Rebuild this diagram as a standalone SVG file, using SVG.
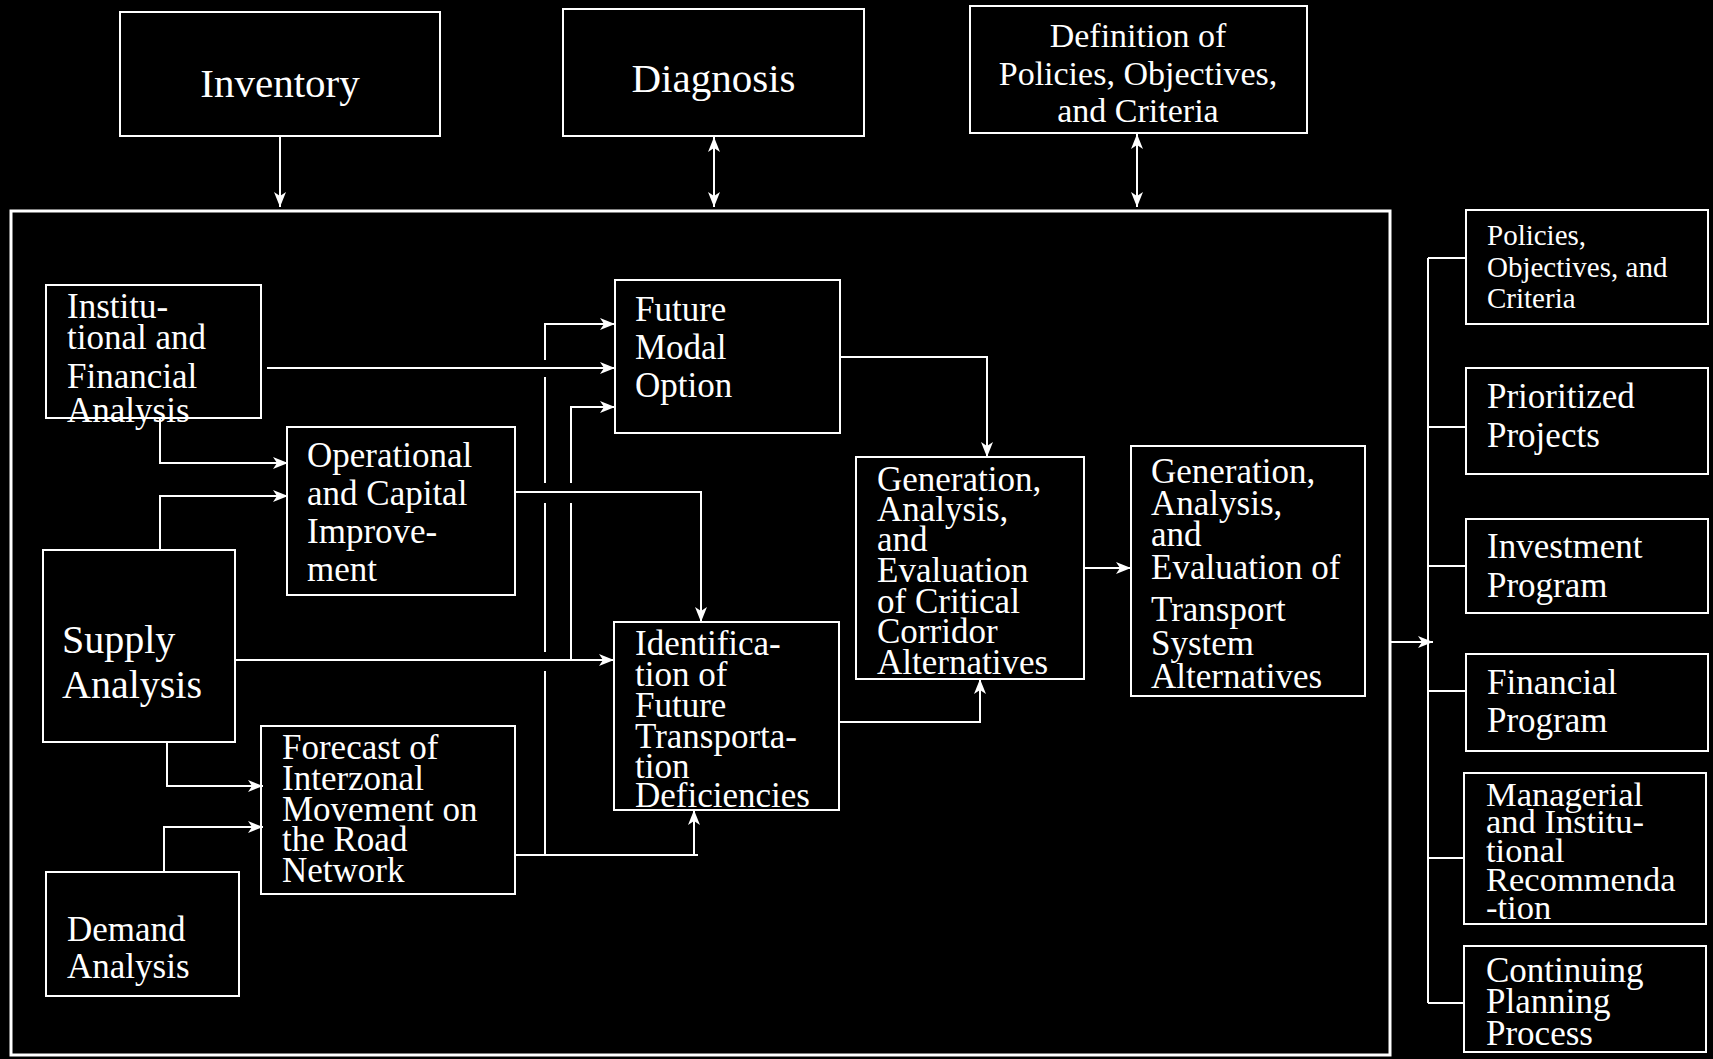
<svg xmlns="http://www.w3.org/2000/svg" width="1713" height="1059" viewBox="0 0 1713 1059">
<style>
.bg{fill:#000}
.box{fill:#000;stroke:#fff;stroke-width:2}
.outer{fill:none;stroke:#fff;stroke-width:3}
.ln{fill:none;stroke:#fff;stroke-width:2}
.t{font-family:"Liberation Serif",serif;fill:#fff}
.big{font-size:41px}
.def{font-size:34px}
.n{font-size:35px}
.sup{font-size:40px}
.pol{font-size:29px}
.mg{font-size:34.5px}
.c{text-anchor:middle}
</style>
<defs>
<marker id="ah" viewBox="0 0 15 12" refX="15" refY="6" markerWidth="15" markerHeight="12" markerUnits="userSpaceOnUse" orient="auto-start-reverse">
<path d="M0,0 L15,6 L0,12 L4,6 z" fill="#fff"/>
</marker>
</defs>
<rect class="bg" x="0" y="0" width="1713" height="1059"/>

<g id="outer-frame"><rect class="outer" x="11" y="211" width="1379" height="844"/></g>

<g id="inventory"><rect class="box" x="120" y="12" width="320" height="124"/>
<text class="t big c" x="280" y="97">Inventory</text></g>

<g id="diagnosis"><rect class="box" x="563" y="9" width="301" height="127"/>
<text class="t big c" x="713.5" y="92">Diagnosis</text></g>

<g id="definition"><rect class="box" x="970" y="6" width="337" height="127"/>
<text class="t def c" x="1138" y="47">Definition of</text>
<text class="t def c" x="1138" y="85">Policies, Objectives,</text>
<text class="t def c" x="1138" y="122">and Criteria</text></g>

<g id="institutional"><rect class="box" x="46" y="285" width="215" height="133"/>
<text class="t n" x="67" y="318">Institu-</text>
<text class="t n" x="67" y="349">tional and</text>
<text class="t n" x="67" y="388">Financial</text>
<text class="t n" x="67" y="422">Analysis</text></g>

<g id="operational"><rect class="box" x="287" y="427" width="228" height="168"/>
<text class="t n" x="307" y="467">Operational</text>
<text class="t n" x="307" y="505">and Capital</text>
<text class="t n" x="307" y="543">Improve-</text>
<text class="t n" x="307" y="581">ment</text></g>

<g id="supply"><rect class="box" x="43" y="550" width="192" height="192"/>
<text class="t sup" x="62" y="653">Supply</text>
<text class="t sup" x="62" y="698">Analysis</text></g>

<g id="forecast"><rect class="box" x="261" y="726" width="254" height="168"/>
<text class="t n" x="282" y="759">Forecast of</text>
<text class="t n" x="282" y="790">Interzonal</text>
<text class="t n" x="282" y="821">Movement on</text>
<text class="t n" x="282" y="851">the Road</text>
<text class="t n" x="282" y="882">Network</text></g>

<g id="demand"><rect class="box" x="46" y="872" width="193" height="124"/>
<text class="t n" x="67" y="941">Demand</text>
<text class="t n" x="67" y="978">Analysis</text></g>

<g id="future-modal"><rect class="box" x="615" y="280" width="225" height="153"/>
<text class="t n" x="635" y="321">Future</text>
<text class="t n" x="635" y="359">Modal</text>
<text class="t n" x="635" y="397">Option</text></g>

<g id="identification"><rect class="box" x="614" y="622" width="225" height="188"/>
<text class="t n" x="635" y="655">Identifica-</text>
<text class="t n" x="635" y="686">tion of</text>
<text class="t n" x="635" y="717">Future</text>
<text class="t n" x="635" y="748">Transporta-</text>
<text class="t n" x="635" y="778">tion</text>
<text class="t n" x="635" y="807">Deficiencies</text></g>

<g id="gen-corridor"><rect class="box" x="856" y="457" width="228" height="222"/>
<text class="t n" x="877" y="491">Generation,</text>
<text class="t n" x="877" y="521">Analysis,</text>
<text class="t n" x="877" y="551">and</text>
<text class="t n" x="877" y="582">Evaluation</text>
<text class="t n" x="877" y="613">of Critical</text>
<text class="t n" x="877" y="643">Corridor</text>
<text class="t n" x="877" y="674">Alternatives</text></g>

<g id="gen-transport"><rect class="box" x="1131" y="446" width="234" height="250"/>
<text class="t n" x="1151" y="483">Generation,</text>
<text class="t n" x="1151" y="515">Analysis,</text>
<text class="t n" x="1151" y="546">and</text>
<text class="t n" x="1151" y="579">Evaluation of</text>
<text class="t n" x="1151" y="621">Transport</text>
<text class="t n" x="1151" y="655">System</text>
<text class="t n" x="1151" y="688">Alternatives</text></g>

<g id="policies"><rect class="box" x="1466" y="210" width="242" height="114"/>
<text class="t pol" x="1487" y="245">Policies,</text>
<text class="t pol" x="1487" y="277">Objectives, and</text>
<text class="t pol" x="1487" y="308">Criteria</text></g>

<g id="prioritized"><rect class="box" x="1466" y="368" width="242" height="106"/>
<text class="t n" x="1487" y="408">Prioritized</text>
<text class="t n" x="1487" y="447">Projects</text></g>

<g id="investment"><rect class="box" x="1466" y="519" width="242" height="94"/>
<text class="t n" x="1487" y="558">Investment</text>
<text class="t n" x="1487" y="597">Program</text></g>

<g id="financial"><rect class="box" x="1466" y="654" width="242" height="97"/>
<text class="t n" x="1487" y="694">Financial</text>
<text class="t n" x="1487" y="732">Program</text></g>

<g id="managerial"><rect class="box" x="1464" y="773" width="242" height="151"/>
<text class="t mg" x="1486" y="806">Managerial</text>
<text class="t mg" x="1486" y="833">and Institu-</text>
<text class="t mg" x="1486" y="862">tional</text>
<text class="t mg" x="1486" y="891">Recommenda</text>
<text class="t mg" x="1486" y="919">-tion</text></g>

<g id="continuing"><rect class="box" x="1464" y="946" width="242" height="106"/>
<text class="t n" x="1486" y="982">Continuing</text>
<text class="t n" x="1486" y="1013">Planning</text>
<text class="t n" x="1486" y="1045">Process</text></g>

<g id="connectors">
<path class="ln" d="M280,136 V207" marker-end="url(#ah)"/>
<path class="ln" d="M714,137 V207" marker-start="url(#ah)" marker-end="url(#ah)"/>
<path class="ln" d="M1137,134 V207" marker-start="url(#ah)" marker-end="url(#ah)"/>
<path class="ln" d="M267,368 H615" marker-end="url(#ah)"/>
<path class="ln" d="M160,418 V463 H288" marker-end="url(#ah)"/>
<path class="ln" d="M160,550 V496 H288" marker-end="url(#ah)"/>
<path class="ln" d="M167,742 V786 H263" marker-end="url(#ah)"/>
<path class="ln" d="M164,872 V827 H263" marker-end="url(#ah)"/>
<path class="ln" d="M235,660 H614" marker-end="url(#ah)"/>
<path class="ln" d="M571,660 V503 M571,483 V407 H615" marker-end="url(#ah)"/>
<path class="ln" d="M515,855 H698"/>
<path class="ln" d="M694,855 V810" marker-end="url(#ah)"/>
<path class="ln" d="M545,855 V671 M545,652 V503 M545,483 V377 M545,360 V324 H615" marker-end="url(#ah)"/>
<path class="ln" d="M515,492 H701 V622" marker-end="url(#ah)"/>
<path class="ln" d="M840,357 H987 V457" marker-end="url(#ah)"/>
<path class="ln" d="M839,722 H980 V679" marker-end="url(#ah)"/>
<path class="ln" d="M1084,568 H1131" marker-end="url(#ah)"/>
<path class="ln" d="M1391,642 H1433" marker-end="url(#ah)"/>
<path class="ln" d="M1428,258 V1003 M1428,258 H1466 M1428,427 H1466 M1428,566 H1466 M1428,691 H1466 M1428,858 H1464 M1428,1003 H1464"/>
</g>
</svg>
